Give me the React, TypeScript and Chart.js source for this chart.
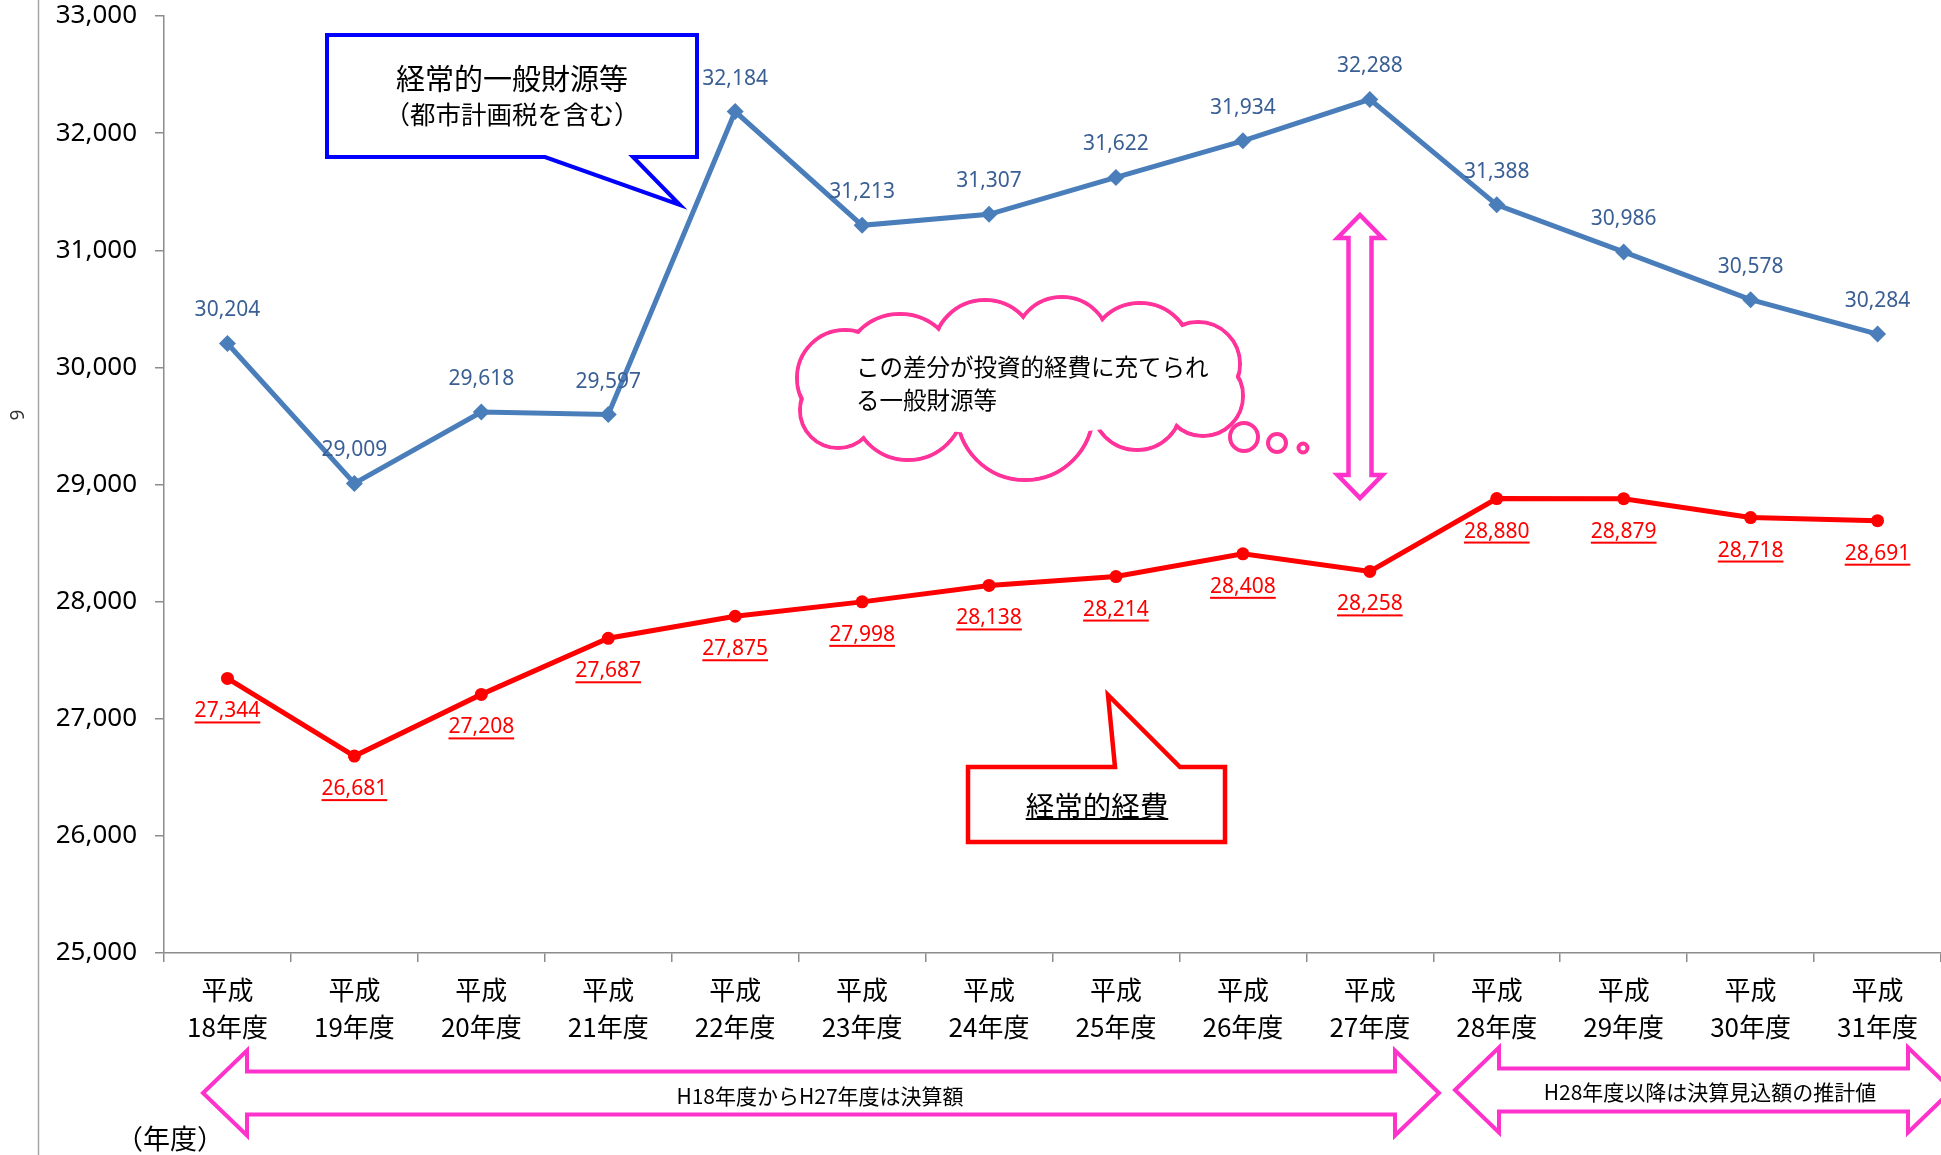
import React, { useEffect, useRef } from 'react';
import { Chart, registerables } from 'chart.js';

Chart.register(...registerables);

const W = 1941;
const H = 1155;

const categories: string[][] = [
  ['平成', '18年度'], ['平成', '19年度'], ['平成', '20年度'], ['平成', '21年度'],
  ['平成', '22年度'], ['平成', '23年度'], ['平成', '24年度'], ['平成', '25年度'],
  ['平成', '26年度'], ['平成', '27年度'], ['平成', '28年度'], ['平成', '29年度'],
  ['平成', '30年度'], ['平成', '31年度'],
];

const revenueValues = [30204, 29009, 29618, 29597, 32184, 31213, 31307, 31622, 31934, 32288, 31388, 30986, 30578, 30284];
const expenseValues = [27344, 26681, 27208, 27687, 27875, 27998, 28138, 28214, 28408, 28258, 28880, 28879, 28718, 28691];

const yMin = 25000;
const yMax = 33000;
const yStep = 1000;

const CJK = '"Noto Sans CJK JP", "Noto Sans", sans-serif';
const LAT = '"Noto Sans", "Noto Sans CJK JP", sans-serif';

const fmt = (v: number) => v.toLocaleString('en-US');

function hArrow(ctx: CanvasRenderingContext2D, x1: number, x2: number, cy: number, hl: number, hh: number, sh: number) {
  ctx.beginPath();
  ctx.moveTo(x1, cy);
  ctx.lineTo(x1 + hl, cy - hh);
  ctx.lineTo(x1 + hl, cy - sh);
  ctx.lineTo(x2 - hl, cy - sh);
  ctx.lineTo(x2 - hl, cy - hh);
  ctx.lineTo(x2, cy);
  ctx.lineTo(x2 - hl, cy + hh);
  ctx.lineTo(x2 - hl, cy + sh);
  ctx.lineTo(x1 + hl, cy + sh);
  ctx.lineTo(x1 + hl, cy + hh);
  ctx.closePath();
  ctx.fill();
  ctx.stroke();
}

function vArrow(ctx: CanvasRenderingContext2D, y1: number, y2: number, cx: number, hl: number, hh: number, sh: number) {
  ctx.beginPath();
  ctx.moveTo(cx, y1);
  ctx.lineTo(cx + hh, y1 + hl);
  ctx.lineTo(cx + sh, y1 + hl);
  ctx.lineTo(cx + sh, y2 - hl);
  ctx.lineTo(cx + hh, y2 - hl);
  ctx.lineTo(cx, y2);
  ctx.lineTo(cx - hh, y2 - hl);
  ctx.lineTo(cx - sh, y2 - hl);
  ctx.lineTo(cx - sh, y1 + hl);
  ctx.lineTo(cx - hh, y1 + hl);
  ctx.closePath();
  ctx.fill();
  ctx.stroke();
}

const annotationPlugin = {
  id: 'annotations',
  afterDraw(chart: any) {
    const ctx: CanvasRenderingContext2D = chart.ctx;
    ctx.save();

    // outer left rule
    ctx.strokeStyle = '#a6a6a6';
    ctx.lineWidth = 1.5;
    ctx.beginPath();
    ctx.moveTo(38.5, 0);
    ctx.lineTo(38.5, H);
    ctx.stroke();

    // rotated axis title
    ctx.save();
    ctx.translate(19, 415);
    ctx.rotate(-Math.PI / 2);
    ctx.font = `19px ${LAT}`;
    ctx.fillStyle = '#333';
    ctx.textAlign = 'center';
    ctx.textBaseline = 'middle';
    ctx.fillText('9', 0, 0);
    ctx.restore();

    // blue callout
    ctx.lineJoin = 'miter';
    ctx.fillStyle = '#ffffff';
    ctx.strokeStyle = '#0000ff';
    ctx.lineWidth = 4;
    ctx.beginPath();
    ctx.moveTo(327, 35);
    ctx.lineTo(697, 35);
    ctx.lineTo(697, 157);
    ctx.lineTo(633, 157);
    ctx.lineTo(680, 205);
    ctx.lineTo(545, 157);
    ctx.lineTo(327, 157);
    ctx.closePath();
    ctx.fill();
    ctx.stroke();
    ctx.fillStyle = '#000';
    ctx.textAlign = 'center';
    ctx.textBaseline = 'middle';
    ctx.font = `29px ${CJK}`;
    ctx.fillText('経常的一般財源等', 512, 79);
    ctx.font = `25.5px ${CJK}`;
    ctx.fillText('（都市計画税を含む）', 512, 114);

    // red callout
    ctx.fillStyle = '#ffffff';
    ctx.strokeStyle = '#ff0000';
    ctx.lineWidth = 4.5;
    ctx.beginPath();
    ctx.moveTo(968, 767);
    ctx.lineTo(1115, 767);
    ctx.lineTo(1108, 695);
    ctx.lineTo(1180, 767);
    ctx.lineTo(1225, 767);
    ctx.lineTo(1225, 842);
    ctx.lineTo(968, 842);
    ctx.closePath();
    ctx.fill();
    ctx.stroke();
    ctx.fillStyle = '#000';
    ctx.font = `28.5px ${CJK}`;
    ctx.fillText('経常的経費', 1097, 806);
    const tw = ctx.measureText('経常的経費').width;
    ctx.fillRect(1097 - tw / 2, 818, tw, 2);

    // cloud
    const bumps: [number, number, number][] = [
      [845, 378, 48], [900, 372, 58], [985, 352, 52], [1062, 345, 48], [1140, 355, 52],
      [1198, 364, 42], [1203, 396, 40], [1137, 405, 45], [1025, 412, 68], [908, 404, 56], [838, 410, 38],
    ];
    ctx.strokeStyle = '#ff3399';
    ctx.lineWidth = 4;
    for (const [x, y, r] of bumps) {
      ctx.beginPath();
      ctx.arc(x, y, r, 0, Math.PI * 2);
      ctx.stroke();
    }
    ctx.fillStyle = '#ffffff';
    for (const [x, y, r] of bumps) {
      ctx.beginPath();
      ctx.arc(x, y, r - 2, 0, Math.PI * 2);
      ctx.fill();
    }
    ctx.beginPath();
    ctx.ellipse(1018, 390, 170, 45, 0, 0, Math.PI * 2);
    ctx.fill();
    const bubbles: [number, number, number][] = [[1244, 437, 14], [1277, 443, 9], [1303, 448, 4.5]];
    for (const [x, y, r] of bubbles) {
      ctx.beginPath();
      ctx.arc(x, y, r, 0, Math.PI * 2);
      ctx.fill();
      ctx.stroke();
    }
    ctx.fillStyle = '#000';
    ctx.textAlign = 'left';
    ctx.font = `23.5px ${CJK}`;
    ctx.fillText('この差分が投資的経費に充てられ', 856, 367);
    ctx.fillText('る一般財源等', 856, 400);

    // arrows
    ctx.fillStyle = '#ffffff';
    ctx.strokeStyle = '#ff33cc';
    ctx.lineWidth = 4.5;
    vArrow(ctx, 215, 498, 1360, 23, 22.5, 11.5);
    ctx.lineWidth = 4;
    hArrow(ctx, 203, 1439, 1093, 44, 42.5, 21.5);
    hArrow(ctx, 1455, 1952, 1090, 44, 42.5, 21.5);

    ctx.fillStyle = '#000';
    ctx.textAlign = 'center';
    ctx.font = `21px ${CJK}`;
    ctx.fillText('H18年度からH27年度は決算額', 820, 1096);
    ctx.fillText('H28年度以降は決算見込額の推計値', 1710, 1092);

    ctx.font = `27px ${CJK}`;
    ctx.fillText('（年度）', 170, 1139);

    // data labels
    ctx.font = `21px ${LAT}`;
    const blue = chart.getDatasetMeta(0).data;
    ctx.fillStyle = '#3a5f95';
    blue.forEach((p: any, i: number) => {
      ctx.fillText(fmt(revenueValues[i]), p.x, p.y - 33);
    });
    const red = chart.getDatasetMeta(1).data;
    ctx.fillStyle = '#ff0000';
    red.forEach((p: any, i: number) => {
      const t = fmt(expenseValues[i]);
      ctx.fillText(t, p.x, p.y + 33);
      const w = ctx.measureText(t).width;
      ctx.fillRect(p.x - w / 2, p.y + 43, w, 2);
    });

    ctx.restore();
  },
};

export default function App() {
  const ref = useRef<HTMLCanvasElement | null>(null);

  useEffect(() => {
    if (!ref.current) return;
    const chart = new Chart(ref.current, {
      type: 'line',
      data: {
        labels: categories,
        datasets: [
          {
            label: '経常的一般財源等',
            data: revenueValues,
            borderColor: '#4a7ebb',
            backgroundColor: '#4a7ebb',
            borderWidth: 5,
            pointStyle: 'rectRot',
            pointRadius: 8.5,
            pointBorderWidth: 0,
            tension: 0,
          },
          {
            label: '経常的経費',
            data: expenseValues,
            borderColor: '#ff0000',
            backgroundColor: '#ff0000',
            borderWidth: 5,
            pointStyle: 'circle',
            pointRadius: 6.5,
            pointBorderWidth: 0,
            tension: 0,
          },
        ],
      },
      options: {
        responsive: false,
        animation: false,
        devicePixelRatio: 1,
        layout: { autoPadding: false, padding: { top: 16, left: 0, right: 0, bottom: 0 } },
        plugins: {
          legend: { display: false },
          tooltip: { enabled: false },
          title: { display: false },
        },
        scales: {
          x: {
            type: 'category',
            offset: true,
            grid: { offset: true, drawOnChartArea: false, drawTicks: true, tickLength: 9, color: '#8c8c8c', lineWidth: 1.5 },
            border: { color: '#8c8c8c', width: 1.5 },
            ticks: {
              autoSkip: false,
              maxRotation: 0,
              minRotation: 0,
              padding: 10,
              color: '#000',
              font: { family: CJK, size: 26, lineHeight: 1.42 },
            },
            afterFit: (s: any) => {
              s.height = H - 953;
              s.paddingLeft = 0;
              s.paddingRight = 0;
            },
          },
          y: {
            min: yMin,
            max: yMax,
            grid: { drawOnChartArea: false, drawTicks: true, tickLength: 9, color: '#8c8c8c', lineWidth: 1.5 },
            border: { color: '#8c8c8c', width: 1.5 },
            ticks: {
              stepSize: yStep,
              padding: 18,
              color: '#000',
              font: { family: LAT, size: 26 },
              callback: (v: any) => fmt(Number(v)),
            },
            afterFit: (s: any) => {
              s.width = 164;
              s.paddingTop = 0;
              s.paddingBottom = 0;
            },
          },
        },
      },
      plugins: [annotationPlugin],
    });
    return () => chart.destroy();
  }, []);

  return (
    <div style={{ position: 'fixed', left: 0, top: 0, width: W, height: H, background: '#fff' }}>
      <canvas ref={ref} width={W} height={H} style={{ width: W, height: H, display: 'block' }} />
    </div>
  );
}
